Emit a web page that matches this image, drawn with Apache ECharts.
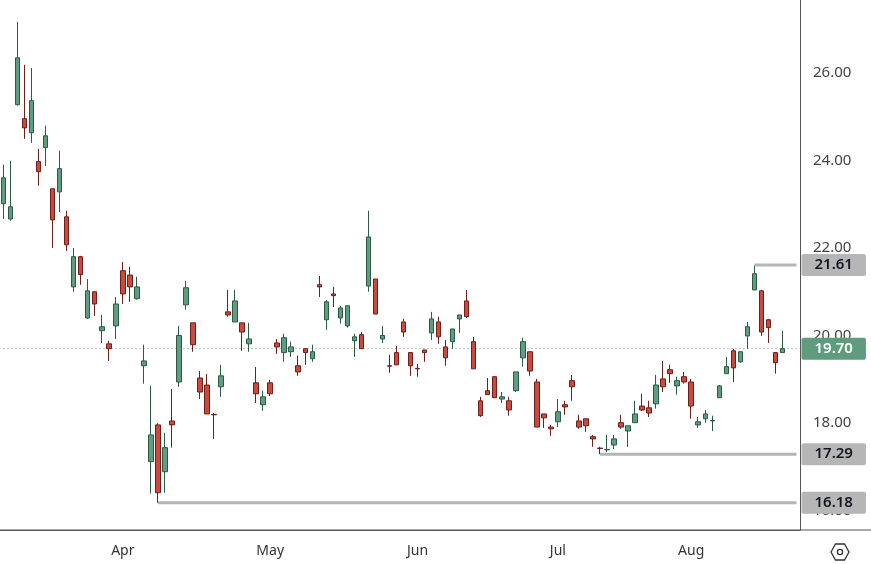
<!DOCTYPE html>
<html><head><meta charset="utf-8">
<script src="https://cdn.jsdelivr.net/npm/echarts@6/dist/echarts.min.js"></script>
<style>html,body{margin:0;padding:0;background:#fff}#c{width:871px;height:564px}</style>
</head><body><div id="c"></div>
<script>
// [open, close, low, high]
const opens  = [23.01,22.66,25.27,24.95,24.63,23.97,24.29,23.35,23.28,22.71,21.11,21.80,20.40,21.00,20.11,19.81,20.22,21.48,21.38,20.84,
19.31,17.12,17.96,16.89,18.05,18.94,20.70,20.29,19.03,18.87,18.20,18.83,20.54,20.31,20.29,19.81,18.92,18.42,18.92,19.83,
19.61,19.63,19.31,19.70,19.47,21.16,20.36,20.95,20.40,20.22,19.88,20.02,21.13,21.29,19.92,19.31,19.61,20.31,19.61,19.25,
19.67,20.06,20.31,19.74,19.86,20.38,20.79,19.86,18.51,18.74,19.06,18.55,18.51,18.74,19.49,19.63,18.94,18.21,17.91,18.03,
18.42,18.97,18.05,18.10,17.69,17.43,17.39,17.50,18.01,17.82,18.01,18.39,18.35,18.44,19.01,19.22,18.85,19.06,18.94,17.96,
18.10,18.05,18.58,19.13,19.65,19.40,19.99,21.04,21.02,20.36,19.61,19.61];
const closes = [23.60,22.94,26.34,24.74,25.36,23.74,24.56,22.64,23.81,22.07,21.80,21.39,21.02,20.72,20.20,19.70,20.72,20.95,21.11,21.11,
19.42,17.73,16.41,17.44,17.96,20.00,21.09,19.79,18.71,18.21,18.19,19.08,20.47,20.79,20.08,19.92,18.67,18.60,18.67,19.74,
19.95,19.74,19.17,19.61,19.63,21.11,20.77,20.91,20.63,20.68,19.97,19.70,22.25,20.49,20.00,19.30,19.33,20.08,19.31,19.24,
19.61,20.38,19.97,19.49,20.15,20.47,20.43,19.24,18.17,18.65,18.58,18.60,18.30,19.17,19.86,19.19,17.91,18.12,17.87,18.26,
18.37,18.83,17.91,17.94,17.64,17.42,17.40,17.64,17.91,17.94,18.21,18.30,18.23,18.87,18.83,19.13,18.97,18.94,18.39,18.03,
18.21,18.06,18.85,19.29,19.26,19.63,20.20,21.41,20.08,20.18,19.38,19.70];
const lows   = [22.66,22.62,25.25,24.49,24.40,23.42,23.87,22.00,22.82,21.93,21.00,21.16,20.38,20.45,19.83,19.42,19.92,20.72,20.77,20.82,
18.90,16.39,16.18,16.41,17.44,18.83,20.59,19.63,18.55,18.21,17.64,18.60,20.43,20.31,19.65,19.63,18.46,18.28,18.62,19.58,
19.40,19.51,19.08,19.33,19.40,20.88,20.13,20.65,20.27,20.18,19.51,19.70,21.00,20.49,19.83,19.15,19.33,19.97,19.08,19.06,
19.40,19.90,19.81,19.31,19.70,20.06,20.40,19.24,18.14,18.65,18.58,18.46,18.17,18.71,19.29,19.08,17.91,17.89,17.71,17.91,
18.19,18.51,17.87,17.80,17.46,17.29,17.34,17.41,17.87,17.46,18.01,18.28,18.14,18.33,18.71,18.92,18.65,18.90,18.10,17.89,
18.01,17.82,18.58,19.13,18.94,19.38,19.70,21.04,19.99,19.83,19.13,19.61];
const highs  = [23.90,23.99,27.16,26.18,26.11,24.26,24.79,23.35,24.22,22.85,22.00,21.82,21.29,21.00,20.47,19.88,20.88,21.68,21.57,21.34,
19.79,18.85,18.00,17.78,18.78,20.22,21.25,20.29,19.19,19.12,18.23,19.33,21.04,21.04,20.29,20.29,19.28,18.74,18.99,19.92,
20.04,19.86,19.54,19.70,19.79,21.36,20.81,21.11,20.68,20.68,20.04,20.08,22.85,21.29,20.22,19.56,19.76,20.38,19.61,19.35,
19.67,20.54,20.43,19.90,20.15,20.47,21.04,19.97,18.60,19.03,19.06,18.71,18.60,19.17,19.95,19.63,19.01,18.21,17.96,18.55,
18.51,19.10,18.19,18.10,17.73,17.46,17.73,17.73,18.19,17.94,18.51,18.67,18.51,19.10,19.42,19.33,19.06,19.17,19.01,18.14,
18.30,18.17,18.87,19.51,19.70,19.63,20.31,21.61,21.04,20.38,19.61,20.11];
const monthLabels = {17:'Apr',38:'May',59:'Jun',79:'Jul',98:'Aug'};
const yTicks = [16,18,20,22,24,26];
const lastPrice = 19.70;
const levels = [{from:107,value:21.61},{from:85,value:17.29},{from:22,value:16.18}];
const nCats = 114;

const categories = [];
for (let i = 0; i < nCats; i++) categories.push(String(i));
const candles = opens.map((o,i)=>[o, closes[i], lows[i], highs[i]]);

function lastVal(p){ return Array.isArray(p.value) ? p.value[1] : p.value; }
const tag = (bg, fg) => ({
  show:true, distance:5, formatter: p => lastVal(p).toFixed(2),
  backgroundColor:bg, color:fg, fontFamily:'Noto Sans', fontSize:15, fontWeight:600,
  padding:[4,13,3,13], borderRadius:2
});

const levelSeries = (from, val, color, width, type, bg, fg, z) => ({
  type:'line', data:[[from,val],[nCats-1,val]], symbol:'none', silent:true, clip:false, z:z,
  lineStyle:{color:color, width:width, type:type},
  endLabel:tag(bg, fg)
});

const chart = echarts.init(document.getElementById('c'));
chart.setOption({
  animation:false,
  grid:{left:0, right:71, top:0, bottom:34},
  xAxis:{type:'category', data:categories, boundaryGap:true,
    axisLine:{show:true, lineStyle:{color:'#555', width:1}},
    axisTick:{show:false},
    axisLabel:{interval:(i)=>monthLabels[i]!==undefined, formatter:(v,i)=>monthLabels[i]||'',
      color:'#333', fontFamily:'Noto Sans', fontSize:14, margin:14},
    splitLine:{show:false}},
  yAxis:{type:'value', position:'right', min:15.56, max:27.66, scale:true,
    axisLine:{show:true, lineStyle:{color:'#555', width:1}},
    axisTick:{show:false}, splitLine:{show:false},
    axisLabel:{customValues:yTicks, formatter:v=>v.toFixed(2), color:'#444',
      fontFamily:'Noto Sans', fontSize:15, margin:13}},
  series:[
    levelSeries(0, lastPrice, '#6a8f7c', 1, [1,3], '#5f9b7d', '#fff', 1),
    ...levels.map(l=>levelSeries(l.from, l.value, '#b5b5b5', 3, 'solid', '#b6b6b6', '#131722', 3)),
    {
    type:'candlestick', data:candles, barWidth:5, z:2,
    itemStyle:{color:'#5e9d7e', color0:'#cc4a3d', borderColor:'#2c5a44', borderColor0:'#6e1f19', borderWidth:1}
  }],
  graphic:[
    {type:'line', shape:{x1:0,y1:530,x2:871,y2:530}, style:{stroke:'#555',lineWidth:1}},
    {type:'polygon', shape:{points:[[831,552],[835.5,544],[844.5,544],[849,552],[844.5,560],[835.5,560]]}, style:{fill:'none',stroke:'#333',lineWidth:1.3}},
    {type:'circle', shape:{cx:840,cy:552,r:2.6}, style:{fill:'none',stroke:'#333',lineWidth:1.3}}
  ]
});
</script></body></html>
